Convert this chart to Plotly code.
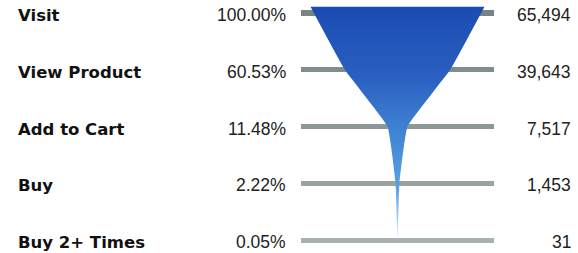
import plotly.graph_objects as go

stages = ["Visit", "View Product", "Add to Cart", "Buy", "Buy 2+ Times"]
counts = [65494, 39643, 7517, 1453, 31]

bar_colors = ["#778484", "#818d8d", "#8c9898", "#98a3a3", "#a7b1b1"]
funnel_scale = [[0.0, "#1a4bb2"], [0.3, "#2a60c1"], [0.55, "#4186d4"],
                [0.78, "#5ca2e1"], [1.0, "#d8eaf8"]]

W = 578
H = 253
px_per_unit = 1.74
center_px = 397.5
row0_px = 13.0
row_step = 56.8

n = len(stages)
rows = list(range(n))
total = counts[0]
pct = [c / total * 100 for c in counts]
half = [p / 2 for p in pct]

fig = go.Figure()

# grey horizontal bars behind the funnel
BAR_HALF = 55.3
fig.add_trace(go.Bar(
    y=rows, x=[2 * BAR_HALF] * n, base=[-BAR_HALF] * n, orientation="h",
    width=0.09, marker=dict(color=bar_colors, line=dict(width=0)),
    hoverinfo="skip", showlegend=False,
))

# funnel outline (open path; the fill closes it with a straight top edge)
top_off = -0.11
ys = [rows[0] + top_off] + rows[1:]
left_x = [-h for h in half]
right_x = [h for h in half]
px_ = left_x + right_x[::-1][1:]
py_ = ys + ys[::-1][1:]

fig.add_trace(go.Scatter(
    x=px_, y=py_, mode="lines", fill="toself",
    line=dict(width=0, shape="spline", smoothing=0.3, color="rgba(0,0,0,0)"),
    fillgradient=dict(type="vertical", colorscale=funnel_scale,
                      start=ys[0], stop=rows[-1]),
    hoverinfo="skip", showlegend=False,
))

annotations = []
for i, (s, c, p) in enumerate(zip(stages, counts, pct)):
    annotations.append(dict(
        x=16 / W, xref="paper", y=i, yref="y", yshift=-2.5,
        text=s, showarrow=False, xanchor="left", yanchor="middle",
        font=dict(family="DejaVu Sans", size=16.5, color="#111111", weight="bold"),
    ))
    annotations.append(dict(
        x=288 / W, xref="paper", y=i, yref="y", yshift=-2,
        text=f"{p:.2f}%", showarrow=False, xanchor="right", yanchor="middle",
        font=dict(family="Liberation Sans", size=17.5, color="#222222"),
    ))
    annotations.append(dict(
        x=573 / W, xref="paper", y=i, yref="y", yshift=-2,
        text=f"{c:,}", showarrow=False, xanchor="right", yanchor="middle",
        font=dict(family="Liberation Sans", size=17.5, color="#222222"),
    ))

x_lo = -center_px / px_per_unit
x_hi = (W - center_px) / px_per_unit
y_top = -row0_px / row_step
y_bot = (H - row0_px) / row_step

fig.update_layout(
    width=W, height=H,
    margin=dict(l=0, r=0, t=0, b=0),
    paper_bgcolor="white", plot_bgcolor="white",
    xaxis=dict(range=[x_lo, x_hi], visible=False, fixedrange=True),
    yaxis=dict(range=[y_bot, y_top], visible=False, fixedrange=True),
    annotations=annotations,
    bargap=0,
)

fig.write_html("out.html", config={"displayModeBar": False},
               post_script="document.body.style.margin='0';")
